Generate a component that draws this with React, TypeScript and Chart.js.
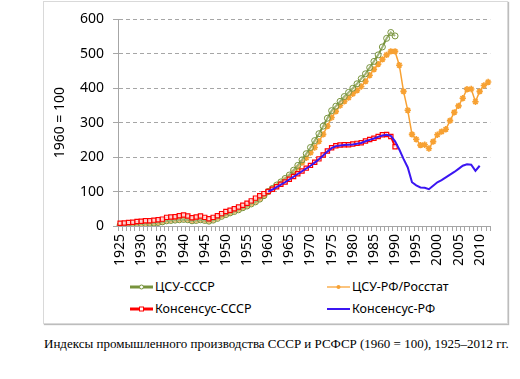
import { useEffect, useRef } from 'react';
import { Chart, registerables } from 'chart.js';

Chart.register(...registerables);

const years: number[] = [
  1925, 1926, 1927, 1928, 1929, 1930, 1931, 1932, 1933, 1934,
  1935, 1936, 1937, 1938, 1939, 1940, 1941, 1942, 1943, 1944,
  1945, 1946, 1947, 1948, 1949, 1950, 1951, 1952, 1953, 1954,
  1955, 1956, 1957, 1958, 1959, 1960, 1961, 1962, 1963, 1964,
  1965, 1966, 1967, 1968, 1969, 1970, 1971, 1972, 1973, 1974,
  1975, 1976, 1977, 1978, 1979, 1980, 1981, 1982, 1983, 1984,
  1985, 1986, 1987, 1988, 1989, 1990, 1991, 1992, 1993, 1994,
  1995, 1996, 1997, 1998, 1999, 2000, 2001, 2002, 2003, 2004,
  2005, 2006, 2007, 2008, 2009, 2010, 2011, 2012,
];

// ЦСУ-СССР, 1925–1990
const csuUssrStart = 1925;
const csuUssr: number[] = [
  2, 3, 3.5, 4, 5, 6, 7, 8, 8.5, 10,
  12, 15, 16, 17, 18, 19, 18, 15, 16, 18,
  16, 14, 17, 22, 28, 33, 38, 42, 47, 53,
  58, 64, 70, 78, 88, 100, 109, 119, 128, 138,
  148, 162, 176, 192, 210, 228, 248, 268, 290, 313,
  335, 348, 362, 376, 388, 400, 413, 428, 442, 460,
  478, 497, 520, 545, 562, 552,
];

// ЦСУ-РФ/Росстат, 1925–2012
const csuRfStart = 1925;
const csuRf: number[] = [
  3, 3.5, 4, 5, 6, 7, 8, 9, 10, 11,
  13, 17, 18, 19, 20, 21, 20, 17, 18, 20,
  18, 16, 19, 24, 30, 35, 39, 44, 49, 54,
  60, 66, 72, 79, 88, 100, 108, 117, 125, 134,
  143, 156, 170, 184, 198, 213, 228, 246, 266, 290,
  315, 333, 350, 362, 373, 384, 394, 405, 420, 438,
  455, 470, 484, 497, 507, 507, 467, 391, 336, 266,
  252, 235, 236, 225, 245, 265, 274, 281, 306, 330,
  349, 371, 397, 398, 361, 391, 408, 418,
];

// Консенсус-СССР, 1925–1990
const consUssrStart = 1925;
const consUssr: number[] = [
  8, 8.5, 10, 11, 13, 14, 15, 15, 17, 18,
  20, 25, 26, 27, 30, 32, 29, 24, 26, 29,
  25, 21, 25, 30, 36, 42, 46, 50, 55, 60,
  66, 73, 81, 88, 94, 100, 107, 114, 121, 128,
  136, 144, 152, 160, 168, 176, 185, 195, 206, 218,
  227, 233, 235, 236, 236, 238, 240, 242, 247, 251,
  255, 260, 265, 266, 260, 230,
];

// Консенсус-РФ, 1960–2010
const consRfStart = 1960;
const consRf: number[] = [
  100, 106, 113, 120, 127, 135, 143, 151, 159, 167,
  175, 184, 194, 205, 216, 226, 232, 234, 235, 236,
  237, 239, 241, 246, 250, 254, 259, 263, 265, 262,
  246, 222, 195, 170, 127, 118, 112, 111, 107, 117,
  127, 133, 141, 149, 157, 166, 175, 179, 178, 160,
  175,
];

const yTicks: number[] = [0, 100, 200, 300, 400, 500, 600];

const GREEN = '#77933C';
const ORANGE = '#F7A133';
const RED = '#FF0000';
const BLUE = '#3B16F2';
const FONT = "'Noto Sans', sans-serif";

function pad(values: number[], start: number): (number | null)[] {
  return years.map((y) => {
    const i = y - start;
    return i >= 0 && i < values.length ? values[i] : null;
  });
}

function Swatch({ kind }: { kind: string }) {
  return (
    <svg width={23} height={10} style={{ display: 'block' }}>
      {kind === 'green' && (
        <>
          <line x1={0} y1={5} x2={23} y2={5} stroke={GREEN} strokeWidth={3} />
          <circle cx={11.5} cy={5} r={2} fill="#fff" stroke={GREEN} strokeWidth={1} />
        </>
      )}
      {kind === 'orange' && (
        <>
          <line x1={0} y1={5} x2={23} y2={5} stroke="#FBC47E" strokeWidth={2} />
          <circle cx={11.5} cy={5} r={2} fill={ORANGE} />
        </>
      )}
      {kind === 'red' && (
        <>
          <line x1={0} y1={5} x2={23} y2={5} stroke={RED} strokeWidth={3} />
          <rect x={9.5} y={3} width={4} height={4} fill="#fff" stroke={RED} strokeWidth={1} />
        </>
      )}
      {kind === 'blue' && <line x1={0} y1={5} x2={23} y2={5} stroke={BLUE} strokeWidth={2} />}
    </svg>
  );
}

function LegendItem({ kind, text, left, top }: { kind: string; text: string; left: number; top: number }) {
  return (
    <div
      style={{
        position: 'absolute',
        left,
        top,
        display: 'flex',
        alignItems: 'center',
        fontFamily: FONT,
        fontSize: 12.5,
        lineHeight: '18px',
        color: '#000',
        whiteSpace: 'nowrap',
      }}
    >
      <Swatch kind={kind} />
      <span style={{ marginLeft: 2 }}>{text}</span>
    </div>
  );
}

export default function App() {
  const ref = useRef<HTMLCanvasElement>(null);

  useEffect(() => {
    if (!ref.current) return;
    const chart = new Chart(ref.current, {
      type: 'line',
      data: {
        labels: years.map(String),
        datasets: [
          {
            label: 'Консенсус-РФ',
            data: pad(consRf, consRfStart),
            borderColor: BLUE,
            borderWidth: 2,
            pointRadius: 0,
            fill: false,
            tension: 0,
          },
          {
            label: 'Консенсус-СССР',
            data: pad(consUssr, consUssrStart),
            borderColor: RED,
            borderWidth: 2,
            pointStyle: 'rect',
            pointRadius: 3,
            pointBorderWidth: 1.2,
            pointBorderColor: RED,
            pointBackgroundColor: 'rgba(255,255,255,0.8)',
            fill: false,
            tension: 0,
          },
          {
            label: 'ЦСУ-СССР',
            data: pad(csuUssr, csuUssrStart),
            borderColor: GREEN,
            borderWidth: 2,
            pointStyle: 'circle',
            pointRadius: 3,
            pointBorderWidth: 1,
            pointBorderColor: GREEN,
            pointBackgroundColor: 'rgba(255,255,255,0.3)',
            fill: false,
            tension: 0,
          },
          {
            label: 'ЦСУ-РФ/Росстат',
            data: pad(csuRf, csuRfStart),
            borderColor: ORANGE,
            borderWidth: 1.5,
            pointStyle: 'star',
            pointRadius: 3.2,
            pointBorderWidth: 1.6,
            pointBorderColor: ORANGE,
            pointBackgroundColor: ORANGE,
            fill: false,
            tension: 0,
          },
        ],
      },
      options: {
        animation: false,
        responsive: false,
        maintainAspectRatio: false,
        devicePixelRatio: 1,
        layout: { padding: { top: 14, right: 12, left: 0, bottom: 0 } },
        plugins: {
          legend: { display: false },
          tooltip: { enabled: false },
        },
        scales: {
          x: {
            type: 'category',
            offset: true,
            grid: {
              display: true,
              drawOnChartArea: false,
              drawTicks: true,
              tickLength: 5,
              color: '#a6a6a6',
              offset: true,
            },
            border: { display: true, color: '#a6a6a6', width: 1 },
            ticks: {
              autoSkip: false,
              maxRotation: 90,
              minRotation: 90,
              padding: 3,
              color: '#000',
              font: { family: FONT, size: 14 },
              callback: (_v: any, i: number) => (years[i] % 5 === 0 ? String(years[i]) : ''),
            },
            afterFit: (s: any) => {
              s.height = 45;
            },
          },
          y: {
            min: 0,
            max: 600,
            afterBuildTicks: (s: any) => {
              s.ticks = yTicks.map((v) => ({ value: v }));
            },
            grid: { color: '#a6a6a6', tickLength: 5, lineWidth: 1 },
            border: { display: true, color: '#a6a6a6', width: 1, dash: [4, 3] },
            ticks: {
              padding: 9,
              color: '#000',
              font: { family: FONT, size: 14 },
            },
            title: {
              display: true,
              text: '1960 = 100',
              color: '#000',
              font: { family: FONT, size: 14 },
              padding: { top: 8, bottom: 0 },
            },
            afterFit: (s: any) => {
              s.width = 74;
            },
          },
        },
      },
    });
    return () => chart.destroy();
  }, []);

  return (
    <div style={{ position: 'absolute', left: 0, top: 0, width: 520, height: 379, background: '#fff' }}>
      <div
        style={{
          position: 'absolute',
          left: 43,
          top: 1,
          width: 465,
          height: 323,
          boxSizing: 'border-box',
          border: '1px solid #d9d9d9',
          boxShadow: '1px 1px 1px #bdbdbd',
        }}
      />
      <canvas
        ref={ref}
        width={464}
        height={269}
        style={{ position: 'absolute', left: 44, top: 2, width: 464, height: 269 }}
      />
      <LegendItem kind="green" text="ЦСУ-СССР" left={130} top={278} />
      <LegendItem kind="orange" text="ЦСУ-РФ/Росстат" left={327} top={278} />
      <LegendItem kind="red" text="Консенсус-СССР" left={130} top={300} />
      <LegendItem kind="blue" text="Консенсус-РФ" left={327} top={300} />
      <div
        style={{
          position: 'absolute',
          left: 44,
          top: 336,
          fontFamily: "'Liberation Serif', 'Times New Roman', serif",
          fontSize: 13,
          lineHeight: '15px',
          color: '#000',
          whiteSpace: 'nowrap',
        }}
      >
        Индексы промышленного производства СССР и РСФСР (1960 = 100), 1925–2012 гг.
      </div>
    </div>
  );
}
